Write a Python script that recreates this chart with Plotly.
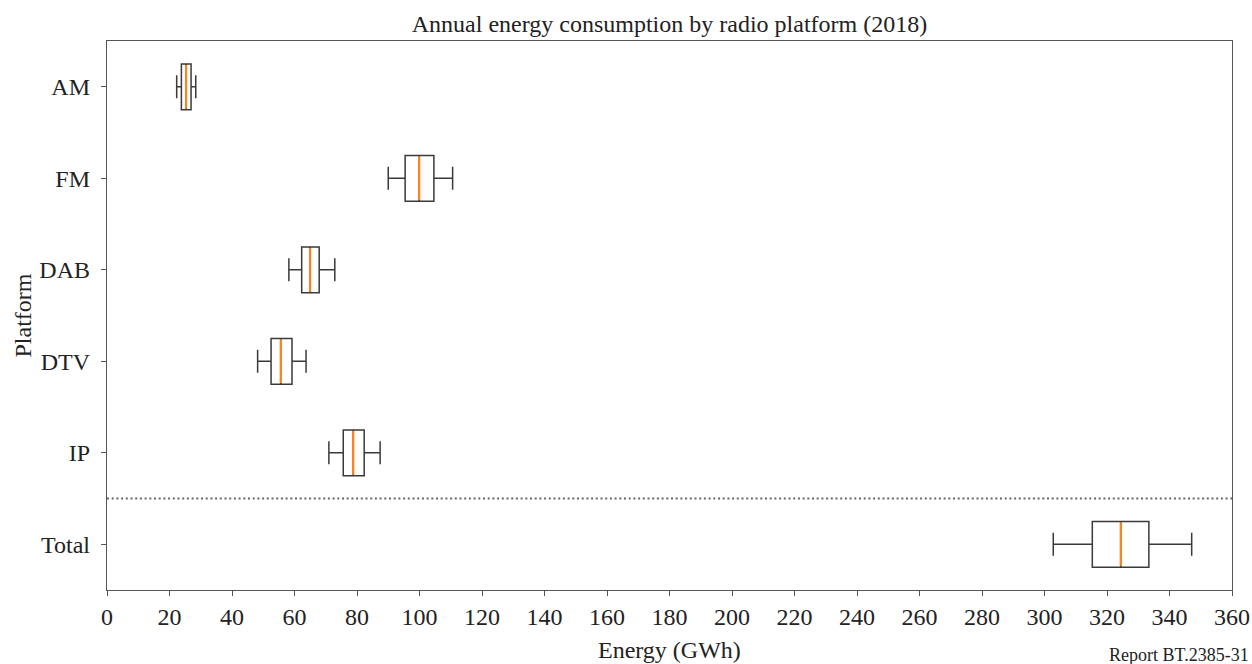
import plotly.graph_objects as go

# ---- data (GWh) ----
categories = ["AM", "FM", "DAB", "DTV", "IP", "Total"]
whisker_low = [22.3, 90.0, 58.2, 48.2, 71.0, 302.8]
q1_values = [23.8, 95.4, 62.3, 52.5, 75.6, 315.3]
median_values = [25.3, 99.9, 65.0, 55.6, 78.8, 324.4]
q3_values = [26.9, 104.6, 67.9, 59.2, 82.3, 333.4]
whisker_high = [28.4, 110.6, 72.9, 63.7, 87.4, 347.1]
x_ticks = list(range(0, 361, 20))

FONT = "Liberation Serif, Times New Roman, serif"
TEXT_COLOR = "#222222"
BOX_COLOR = "#3a3a3a"
AXIS_COLOR = "#555555"
MEDIAN_COLOR = "#ff8418"
BOX_WIDTH = 0.5

W, H = 1252, 664
ML, MR, MT, MB = 107, 20, 41, 74
PW, PH = W - ML - MR, H - MT - MB

n = len(categories)
positions = [n - i for i in range(n)]  # AM on top

fig = go.Figure()

fig.add_trace(go.Box(
    y=positions,
    q1=q1_values,
    median=median_values,
    q3=q3_values,
    lowerfence=whisker_low,
    upperfence=whisker_high,
    orientation="h",
    width=BOX_WIDTH,
    whiskerwidth=0.5,
    fillcolor="rgba(0,0,0,0)",
    line=dict(color=BOX_COLOR, width=1.5),
    boxpoints=False,
    showlegend=False,
    hoverinfo="skip",
))

# orange median lines (drawn over the box's own median)
for pos, med in zip(positions, median_values):
    fig.add_trace(go.Scatter(
        x=[med, med],
        y=[pos - BOX_WIDTH / 2 + 0.012, pos + BOX_WIDTH / 2 - 0.012],
        mode="lines",
        line=dict(color=MEDIAN_COLOR, width=2.2),
        showlegend=False,
        hoverinfo="skip",
    ))

# dotted separator between IP and Total
sep_y = (positions[-2] + positions[-1]) / 2
fig.add_shape(
    type="line", xref="paper", x0=0, x1=1, yref="y", y0=sep_y, y1=sep_y,
    line=dict(color="#666666", width=2, dash="2px,2.7px"),
)

fig.update_layout(
    width=W,
    height=H,
    margin=dict(l=ML, r=MR, t=MT, b=MB, autoexpand=False),
    paper_bgcolor="white",
    plot_bgcolor="white",
    font=dict(family=FONT, size=24, color=TEXT_COLOR),
    title=dict(
        text="Annual energy consumption by radio platform (2018)",
        x=0.5, xref="paper", xanchor="center",
        y=1 - 24 / H, yref="container", yanchor="middle",
        font=dict(family=FONT, size=24, color=TEXT_COLOR),
    ),
    boxmode="overlay",
    showlegend=False,
)

fig.update_xaxes(
    range=[0, 360],
    tickvals=x_ticks,
    ticktext=[str(v) for v in x_ticks],
    ticks="outside", ticklen=5, tickwidth=1.2, tickcolor=AXIS_COLOR,
    showline=True, linecolor=AXIS_COLOR, linewidth=1.4, mirror=True,
    showgrid=False, zeroline=False, automargin=False,
    tickfont=dict(size=24),
)

fig.update_yaxes(
    range=[0.5, n + 0.5],
    tickvals=positions,
    ticktext=categories,
    ticks="outside", ticklen=5, tickwidth=1.2, tickcolor=AXIS_COLOR,
    showline=True, linecolor=AXIS_COLOR, linewidth=1.4, mirror=True,
    showgrid=False, zeroline=False, automargin=False,
    ticklabelstandoff=6,
    tickfont=dict(size=24),
)

# axis titles
fig.add_annotation(
    text="Energy (GWh)", xref="paper", yref="paper",
    x=0.5, y=-(650 - (MT + PH)) / PH,
    xanchor="center", yanchor="middle", showarrow=False,
    font=dict(family=FONT, size=24, color=TEXT_COLOR),
)
fig.add_annotation(
    text="Platform", xref="paper", yref="paper",
    x=(22 - ML) / PW, y=0.5, textangle=-90,
    xanchor="center", yanchor="middle", showarrow=False,
    font=dict(family=FONT, size=24, color=TEXT_COLOR),
)

fig.add_annotation(
    text="Report BT.2385-31",
    xref="paper", yref="paper",
    x=1 + 19 / PW, y=-(655 - (MT + PH)) / PH,
    xanchor="right", yanchor="middle",
    showarrow=False,
    font=dict(family=FONT, size=18, color=TEXT_COLOR),
)

fig.write_html("out.html")
